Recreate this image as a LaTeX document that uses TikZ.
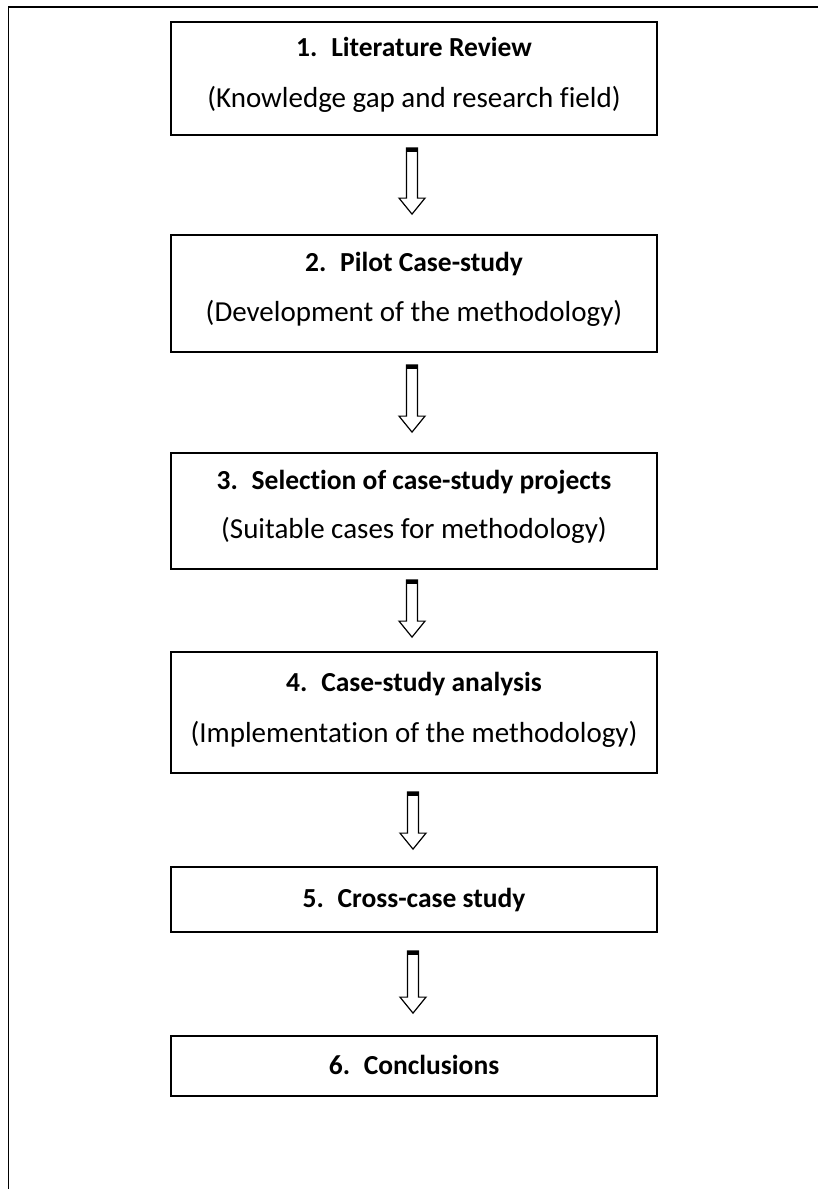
\documentclass[tikz,border=0pt]{standalone}
\usepackage{fontspec}
\setmainfont{Carlito}[Ligatures=NoCommon]
\usetikzlibrary{calc}
\tikzset{
  stagebox/.style={draw=black, line width=1.8pt, minimum width=486pt, inner sep=0pt, fill=white},
  headtext/.style={anchor=base, inner sep=0pt, font=\fontsize{27.5}{33}\selectfont\bfseries},
  subtext/.style={anchor=base, inner sep=0pt, font=\fontsize{29}{35}\selectfont},
  arrowline/.style={draw=black, line width=1.2pt, fill=white, line join=miter},
  framerule/.style={draw=black, line width=1.6pt},
}
\newcommand{\blockarr}[2]{%
  \path let \p1=(#1), \p2=(#2) in
    [arrowline] (\x1-5.5pt,\y1) -- (\x1+5.5pt,\y1) -- (\x1+5.5pt,\y2+16pt)
      -- (\x1+13pt,\y2+16pt) -- (\x2,\y2) -- (\x1-13pt,\y2+16pt)
      -- (\x1-5.5pt,\y2+16pt) -- cycle;
  \path let \p1=(#1) in [fill=black] (\x1-5.5pt,\y1) rectangle (\x1+5.5pt,\y1-4pt);
}
\begin{document}
\begin{tikzpicture}[x=1pt,y=-1pt]
\useasboundingbox (0,0) rectangle (818,1189);
% outer frame (only top and left sides visible)
\coordinate (fr) at (820,6.7);
\coordinate (fc) at (8.3,6.7);
\coordinate (fb) at (8.3,1191);
\draw[framerule] (fr) -- (fc) -- (fb);

% boxes
\node[stagebox, minimum height=113pt] (b1) at (414,78.5) {};
\node[stagebox, minimum height=117pt] (b2) at (414,293.5) {};
\node[stagebox, minimum height=116pt] (b3) at (414,511) {};
\node[stagebox, minimum height=121pt] (b4) at (414,712.5) {};
\node[stagebox, minimum height=65pt] (b5) at (414,899.5) {};
\node[stagebox, minimum height=60pt] (b6) at (414,1066) {};

% texts
\node[headtext] (t1a) at (414,56) {1.\hspace{0.5em}Literature Review};
\node[subtext]  (t1b) at (414,107) {(Knowledge gap and research field)};
\node[headtext] (t2a) at (414,271) {2.\hspace{0.5em}Pilot Case-study};
\node[subtext]  (t2b) at (414,321) {(Development of the methodology)};
\node[headtext] (t3a) at (414,489) {3.\hspace{0.5em}Selection of case-study projects};
\node[subtext]  (t3b) at (414,538) {(Suitable cases for methodology)};
\node[headtext] (t4a) at (414,691) {4.\hspace{0.5em}Case-study analysis};
\node[subtext]  (t4b) at (414,742) {(Implementation of the methodology)};
\node[headtext] (t5a) at (414,907) {5.\hspace{0.5em}Cross-case study};
\node[headtext] (t6a) at (414,1074) {6.\hspace{0.5em}Conclusions};

% arrows between boxes
\coordinate (a1s) at ($(b1.south)+(-2,12)$);
\coordinate (a1e) at ($(b2.north)+(-2,-20)$);
\coordinate (a2s) at ($(b2.south)+(-2,12)$);
\coordinate (a2e) at ($(b3.north)+(-2,-20)$);
\coordinate (a3s) at ($(b3.south)+(-2,10)$);
\coordinate (a3e) at ($(b4.north)+(-2,-14)$);
\coordinate (a4s) at ($(b4.south)+(-1,18)$);
\coordinate (a4e) at ($(b5.north)+(-1,-17)$);
\coordinate (a5s) at ($(b5.south)+(-1,18)$);
\coordinate (a5e) at ($(b6.north)+(-1,-22)$);
\blockarr{a1s}{a1e}
\blockarr{a2s}{a2e}
\blockarr{a3s}{a3e}
\blockarr{a4s}{a4e}
\blockarr{a5s}{a5e}
\end{tikzpicture}
\end{document}
